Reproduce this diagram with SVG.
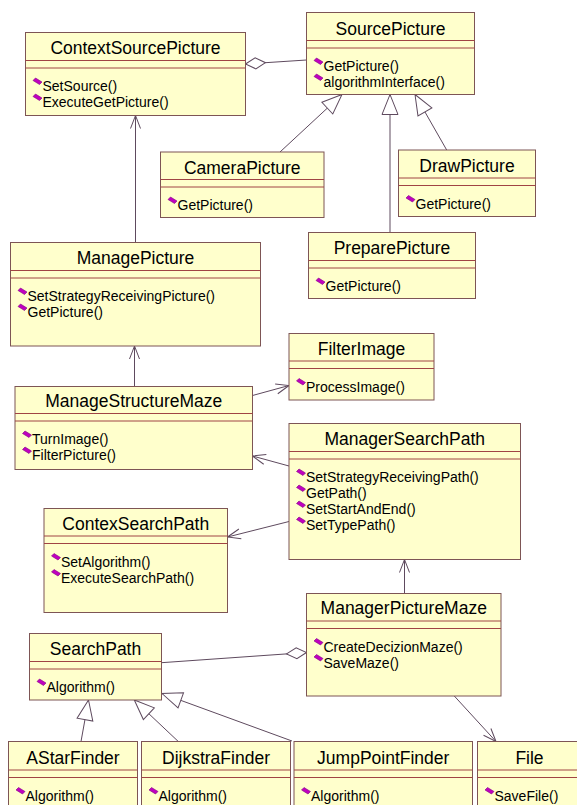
<svg xmlns="http://www.w3.org/2000/svg" xmlns:xlink="http://www.w3.org/1999/xlink" width="577" height="805" viewBox="0 0 577 805">
<style>
.box{fill:#ffffcc;stroke:#7d5555;stroke-width:1}
.sep{stroke:#a04444;stroke-width:1}
.t{font-family:"Liberation Sans",Arial,sans-serif;font-size:17.5px;fill:#000;text-anchor:middle}
.m{font-family:"Liberation Sans",Arial,sans-serif;font-size:14px;fill:#000}
.c{fill:none;stroke:#5e4a5e;stroke-width:1}
.mk{fill:none;stroke:#5e4a5e;stroke-width:1}
.mkw{fill:#ffffff;stroke:#5e4a5e;stroke-width:1}
</style>
<defs>
<polygon id="op" points="-4.5,-1 -2,-3.5 4.5,0.5 2,3" fill="#c000c0" stroke="#800080" stroke-width="0.6"/>
<marker id="open" viewBox="-15 -7 17 14" refX="0" refY="0" markerWidth="17" markerHeight="14" markerUnits="userSpaceOnUse" orient="auto">
<path class="mk" d="M-13,-5 L0,0 L-13,5"/>
</marker>
<marker id="tri" viewBox="-22 -10 24 20" refX="0" refY="0" markerWidth="24" markerHeight="20" markerUnits="userSpaceOnUse" orient="auto">
<path class="mkw" d="M0,0 L-20,-8 L-20,8 Z"/>
</marker>
<marker id="dia" viewBox="-2 -7 24 14" refX="0" refY="0" markerWidth="24" markerHeight="14" markerUnits="userSpaceOnUse" orient="auto">
<path class="mkw" d="M0,0 L10,-5.5 L20,0 L10,5.5 Z"/>
</marker>
</defs>
<rect width="577" height="805" fill="#ffffff"/>

<g id="connectors">
<path class="c" d="M245.5,64 L306.5,60" marker-start="url(#dia)"/>
<path class="c" d="M280,152 L342,94.5" marker-end="url(#tri)"/>
<path class="c" d="M390,232.5 L390,94.5" marker-end="url(#tri)"/>
<path class="c" d="M446.7,150 L415,94.5" marker-end="url(#tri)"/>
<path class="c" d="M135.5,242.5 L135.5,115.5" marker-end="url(#open)"/>
<path class="c" d="M134.5,386.5 L134.5,346" marker-end="url(#open)"/>
<path class="c" d="M252.5,395.5 L289,385.5" marker-end="url(#open)"/>
<path class="c" d="M289,466 L252.5,456" marker-end="url(#open)"/>
<path class="c" d="M289,521.5 L227.5,537" marker-end="url(#open)"/>
<path class="c" d="M404.5,593.5 L404.5,559.5" marker-end="url(#open)"/>
<path class="c" d="M306.5,652.5 L161.5,662.7" marker-start="url(#dia)"/>
<path class="c" d="M454.3,696 L496,741.5" marker-end="url(#open)"/>
<path class="c" d="M81,741.5 L88.5,700" marker-end="url(#tri)"/>
<path class="c" d="M178.3,741.5 L134.3,700" marker-end="url(#tri)"/>
<path class="c" d="M292,741 L162,693.5" marker-end="url(#tri)"/>
</g>

<g id="ContextSourcePicture">
<rect class="box" x="25.5" y="32.5" width="220" height="83"/>
<line class="sep" x1="25.5" y1="60.5" x2="245.5" y2="60.5"/>
<line class="sep" x1="25.5" y1="68" x2="245.5" y2="68"/>
<text class="t" x="135.5" y="54">ContextSourcePicture</text>
<use href="#op" x="37.5" y="81.5"/>
<text class="m" x="42.5" y="91">SetSource()</text>
<use href="#op" x="37.5" y="97.5"/>
<text class="m" x="42.5" y="107">ExecuteGetPicture()</text>
</g>

<g id="SourcePicture">
<rect class="box" x="306.5" y="12.5" width="168" height="82"/>
<line class="sep" x1="306.5" y1="40.5" x2="474.5" y2="40.5"/>
<line class="sep" x1="306.5" y1="48" x2="474.5" y2="48"/>
<text class="t" x="390.5" y="34.5">SourcePicture</text>
<use href="#op" x="318.5" y="61.5"/>
<text class="m" x="323.5" y="71">GetPicture()</text>
<use href="#op" x="318.5" y="77.5"/>
<text class="m" x="323.5" y="87">algorithmInterface()</text>
</g>

<g id="CameraPicture">
<rect class="box" x="160.5" y="152" width="163.5" height="65.5"/>
<line class="sep" x1="160.5" y1="179.5" x2="324" y2="179.5"/>
<line class="sep" x1="160.5" y1="187" x2="324" y2="187"/>
<text class="t" x="242.25" y="173.5">CameraPicture</text>
<use href="#op" x="172.5" y="200.5"/>
<text class="m" x="177.5" y="210">GetPicture()</text>
</g>

<g id="DrawPicture">
<rect class="box" x="398.5" y="150" width="137" height="66.5"/>
<line class="sep" x1="398.5" y1="178" x2="535.5" y2="178"/>
<line class="sep" x1="398.5" y1="185.5" x2="535.5" y2="185.5"/>
<text class="t" x="467" y="171.5">DrawPicture</text>
<use href="#op" x="410.5" y="199"/>
<text class="m" x="415.5" y="208.5">GetPicture()</text>
</g>

<g id="PreparePicture">
<rect class="box" x="308.5" y="232.5" width="167" height="66"/>
<line class="sep" x1="308.5" y1="260.5" x2="475.5" y2="260.5"/>
<line class="sep" x1="308.5" y1="268" x2="475.5" y2="268"/>
<text class="t" x="392" y="254">PreparePicture</text>
<use href="#op" x="320.5" y="281.5"/>
<text class="m" x="325.5" y="291">GetPicture()</text>
</g>

<g id="ManagePicture">
<rect class="box" x="10.5" y="242.5" width="250" height="103.5"/>
<line class="sep" x1="10.5" y1="270.5" x2="260.5" y2="270.5"/>
<line class="sep" x1="10.5" y1="278" x2="260.5" y2="278"/>
<text class="t" x="135.5" y="264">ManagePicture</text>
<use href="#op" x="22.5" y="291.5"/>
<text class="m" x="27.5" y="301">SetStrategyReceivingPicture()</text>
<use href="#op" x="22.5" y="307.5"/>
<text class="m" x="27.5" y="317">GetPicture()</text>
</g>

<g id="FilterImage">
<rect class="box" x="289" y="333.5" width="145" height="66.5"/>
<line class="sep" x1="289" y1="361" x2="434" y2="361"/>
<line class="sep" x1="289" y1="368.5" x2="434" y2="368.5"/>
<text class="t" x="361.5" y="354.5">FilterImage</text>
<use href="#op" x="301" y="382"/>
<text class="m" x="306" y="391.5">ProcessImage()</text>
</g>

<g id="ManageStructureMaze">
<rect class="box" x="15" y="386.5" width="237.5" height="83"/>
<line class="sep" x1="15" y1="413.5" x2="252.5" y2="413.5"/>
<line class="sep" x1="15" y1="421" x2="252.5" y2="421"/>
<text class="t" x="133.75" y="407">ManageStructureMaze</text>
<use href="#op" x="27" y="434.5"/>
<text class="m" x="32" y="444">TurnImage()</text>
<use href="#op" x="27" y="450.5"/>
<text class="m" x="32" y="460">FilterPicture()</text>
</g>

<g id="ManagerSearchPath">
<rect class="box" x="289" y="423.5" width="231.5" height="136"/>
<line class="sep" x1="289" y1="451.5" x2="520.5" y2="451.5"/>
<line class="sep" x1="289" y1="459" x2="520.5" y2="459"/>
<text class="t" x="404.75" y="445">ManagerSearchPath</text>
<use href="#op" x="301" y="472.5"/>
<text class="m" x="306" y="482">SetStrategyReceivingPath()</text>
<use href="#op" x="301" y="488.5"/>
<text class="m" x="306" y="498">GetPath()</text>
<use href="#op" x="301" y="504.5"/>
<text class="m" x="306" y="514">SetStartAndEnd()</text>
<use href="#op" x="301" y="520.5"/>
<text class="m" x="306" y="530">SetTypePath()</text>
</g>

<g id="ContexSearchPath">
<rect class="box" x="44" y="508.5" width="183.5" height="104"/>
<line class="sep" x1="44" y1="536" x2="227.5" y2="536"/>
<line class="sep" x1="44" y1="543.5" x2="227.5" y2="543.5"/>
<text class="t" x="135.75" y="530">ContexSearchPath</text>
<use href="#op" x="56" y="557"/>
<text class="m" x="61" y="566.5">SetAlgorithm()</text>
<use href="#op" x="56" y="573"/>
<text class="m" x="61" y="582.5">ExecuteSearchPath()</text>
</g>

<g id="ManagerPictureMaze">
<rect class="box" x="306.5" y="593.5" width="194.5" height="102.5"/>
<line class="sep" x1="306.5" y1="621" x2="501" y2="621"/>
<line class="sep" x1="306.5" y1="628.5" x2="501" y2="628.5"/>
<text class="t" x="403.75" y="614">ManagerPictureMaze</text>
<use href="#op" x="318.5" y="642"/>
<text class="m" x="323.5" y="651.5">CreateDecizionMaze()</text>
<use href="#op" x="318.5" y="658"/>
<text class="m" x="323.5" y="667.5">SaveMaze()</text>
</g>

<g id="SearchPath">
<rect class="box" x="29.5" y="633.5" width="132" height="66.5"/>
<line class="sep" x1="29.5" y1="661.5" x2="161.5" y2="661.5"/>
<line class="sep" x1="29.5" y1="669" x2="161.5" y2="669"/>
<text class="t" x="95.5" y="655">SearchPath</text>
<use href="#op" x="41.5" y="682.5"/>
<text class="m" x="46.5" y="692">Algorithm()</text>
</g>

<g id="AStarFinder">
<rect class="box" x="8.5" y="741.5" width="129" height="80"/>
<line class="sep" x1="8.5" y1="770" x2="137.5" y2="770"/>
<line class="sep" x1="8.5" y1="777.5" x2="137.5" y2="777.5"/>
<text class="t" x="73" y="763.5">AStarFinder</text>
<use href="#op" x="20.5" y="791"/>
<text class="m" x="25.5" y="800.5">Algorithm()</text>
</g>

<g id="DijkstraFinder">
<rect class="box" x="141.5" y="741.5" width="149" height="80"/>
<line class="sep" x1="141.5" y1="770" x2="290.5" y2="770"/>
<line class="sep" x1="141.5" y1="777.5" x2="290.5" y2="777.5"/>
<text class="t" x="216" y="763.5">DijkstraFinder</text>
<use href="#op" x="153.5" y="791"/>
<text class="m" x="158.5" y="800.5">Algorithm()</text>
</g>

<g id="JumpPointFinder">
<rect class="box" x="294" y="741.5" width="178.5" height="80"/>
<line class="sep" x1="294" y1="770" x2="472.5" y2="770"/>
<line class="sep" x1="294" y1="777.5" x2="472.5" y2="777.5"/>
<text class="t" x="383.25" y="763.5">JumpPointFinder</text>
<use href="#op" x="306" y="791"/>
<text class="m" x="311" y="800.5">Algorithm()</text>
</g>

<g id="File">
<rect class="box" x="477.5" y="741.5" width="104" height="80"/>
<line class="sep" x1="477.5" y1="770" x2="581.5" y2="770"/>
<line class="sep" x1="477.5" y1="777.5" x2="581.5" y2="777.5"/>
<text class="t" x="529.5" y="763.5">File</text>
<use href="#op" x="489.5" y="791"/>
<text class="m" x="494.5" y="800.5">SaveFile()</text>
</g>
</svg>
